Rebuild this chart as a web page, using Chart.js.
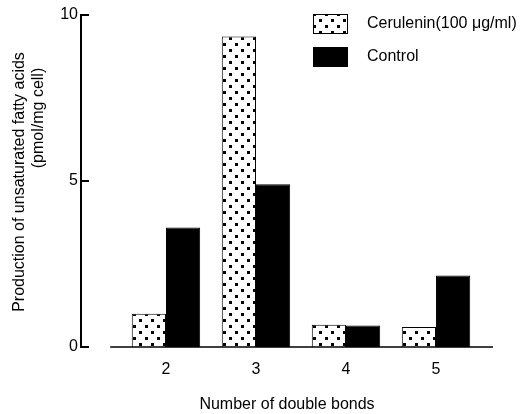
<!DOCTYPE html>
<html>
<head>
<meta charset="utf-8">
<script src="https://cdn.jsdelivr.net/npm/chart.js@4.4.0/dist/chart.umd.min.js"></script>
<style>
  html, body { margin: 0; padding: 0; background: #fff; }
  #wrap { width: 524px; height: 414px; }
</style>
</head>
<body>
<div id="wrap"><canvas id="bonds_chart"></canvas></div>
<script>
const bondCounts = [2, 3, 4, 5];
const ceruleninValues = [1.0, 9.35, 0.67, 0.6];
const controlValues = [3.6, 4.9, 0.65, 2.15];
const yTicks = [0, 5, 10];
const seriesLabels = ['Cerulenin(100 μg/ml)', 'Control'];
const yTitleLines = ['Production of unsaturated fatty acids', '(pmol/mg cell)'];
const xTitle = 'Number of double bonds';

const FONT = '"Liberation Sans", Arial, Helvetica, sans-serif';
Chart.defaults.font.family = FONT;
Chart.defaults.font.size = 16;
Chart.defaults.color = '#000';

const canvas = document.getElementById('bonds_chart');
const ctx = canvas.getContext('2d');

// dotted fill like the printed figure
function dotPattern() {
  const c = document.createElement('canvas');
  c.width = 12;
  c.height = 12;
  const g = c.getContext('2d');
  g.fillStyle = '#fff';
  g.fillRect(0, 0, 12, 12);
  g.fillStyle = '#000';
  g.fillRect(1, 1, 3, 3);
  g.fillRect(7, 7, 3, 3);
  return ctx.createPattern(c, 'repeat');
}

// inward y ticks and the x baseline, which starts away from the y axis
const paperAxes = {
  id: 'paperAxes',
  afterDatasetsDraw(chart) {
    const { ctx, chartArea, scales: { x, y } } = chart;
    ctx.save();
    ctx.strokeStyle = '#000';
    ctx.lineWidth = 2;
    ctx.beginPath();
    yTicks.forEach(v => {
      const py = y.getPixelForValue(v);
      ctx.moveTo(chartArea.left, py);
      ctx.lineTo(chartArea.left + 8, py);
    });
    ctx.stroke();
    ctx.lineWidth = 1.5;
    ctx.beginPath();
    const y0 = y.getPixelForValue(0);
    ctx.moveTo(x.getPixelForValue(1.38), y0);
    ctx.lineTo(chartArea.right, y0);
    ctx.stroke();
    ctx.restore();
  }
};

// two-line y title, second line set higher as in the print
const yTitle = {
  id: 'yTitle',
  afterDraw(chart) {
    const c = chart.ctx;
    const spots = [[20, 182], [39, 118]];
    c.save();
    c.fillStyle = '#000';
    c.font = '16px ' + FONT;
    c.textAlign = 'center';
    c.textBaseline = 'middle';
    yTitleLines.forEach((t, i) => {
      c.save();
      c.translate(spots[i][0], spots[i][1]);
      c.rotate(-Math.PI / 2);
      c.fillText(t, 0, 0);
      c.restore();
    });
    c.restore();
  }
};

// stacked legend in the top right corner
const stackLegend = {
  id: 'stackLegend',
  afterDraw(chart) {
    const c = chart.ctx;
    const rows = [24, 57];
    c.save();
    c.font = '16px ' + FONT;
    c.textBaseline = 'middle';
    chart.data.datasets.forEach((ds, i) => {
      const cy = rows[i];
      c.fillStyle = ds.backgroundColor;
      c.fillRect(313, cy - 10, 35, 20);
      c.strokeStyle = '#000';
      c.lineWidth = 1;
      c.strokeRect(313.5, cy - 9.5, 34, 19);
      c.fillStyle = '#000';
      c.fillText(ds.label, 367, cy);
    });
    c.restore();
  }
};

new Chart(ctx, {
  type: 'bar',
  data: {
    datasets: [{
      label: seriesLabels[0],
      data: bondCounts.map((b, i) => ({ x: b, y: ceruleninValues[i] })),
      backgroundColor: dotPattern(),
      borderColor: '#000',
      borderWidth: 1,
      barPercentage: 1,
      categoryPercentage: 0.76
    }, {
      label: seriesLabels[1],
      data: bondCounts.map((b, i) => ({ x: b, y: controlValues[i] })),
      backgroundColor: '#000',
      borderColor: '#000',
      borderWidth: 1,
      barPercentage: 1,
      categoryPercentage: 0.76
    }]
  },
  options: {
    responsive: true,
    maintainAspectRatio: false,
    animation: false,
    layout: { padding: { top: 15, right: 31, left: 0, bottom: 0 } },
    plugins: {
      legend: { display: false },
      tooltip: { enabled: false }
    },
    scales: {
      x: {
        type: 'linear',
        offset: false,
        min: 1.056,
        max: 5.633,
        afterBuildTicks: axis => { axis.ticks = bondCounts.map(v => ({ value: v })); },
        afterFit: axis => { axis.height = 67; },
        grid: { display: false, drawTicks: false },
        border: { display: false },
        ticks: { padding: 13, color: '#000' },
        title: {
          display: true,
          text: xTitle,
          color: '#000',
          padding: { top: 4, bottom: 0 }
        }
      },
      y: {
        min: 0,
        max: 10,
        afterBuildTicks: axis => { axis.ticks = yTicks.map(v => ({ value: v })); },
        afterFit: axis => { axis.width = 81; },
        grid: { display: false, drawTicks: false },
        border: { display: true, color: '#000', width: 2 },
        ticks: { padding: 3, color: '#000' }
      }
    }
  },
  plugins: [paperAxes, yTitle, stackLegend]
});
</script>
</body>
</html>
